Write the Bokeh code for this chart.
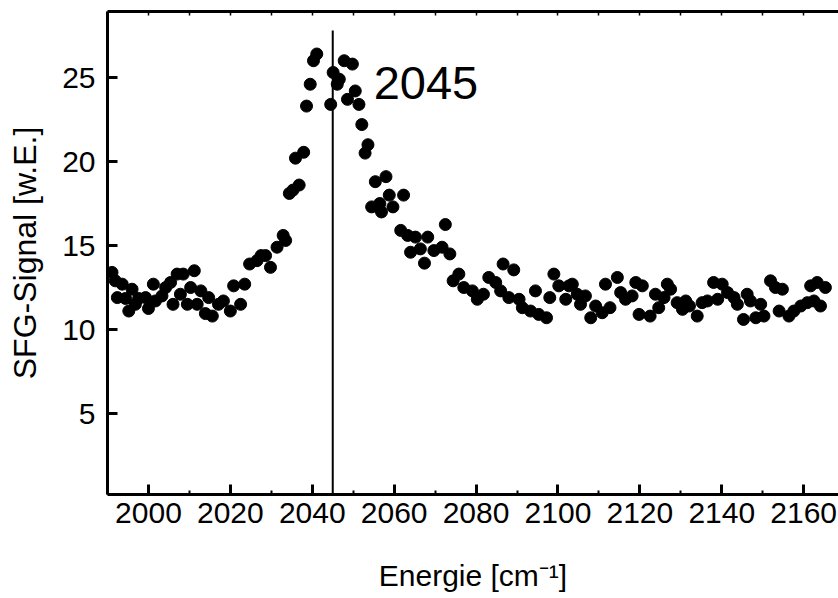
from bokeh.plotting import figure
from bokeh.models import Range1d, FixedTicker, LinearAxis, Label, CustomLabelingPolicy
from bokeh.embed import file_html
from bokeh.resources import INLINE

energy = [1991.1, 1991.9, 1992.4, 1993.6, 1994.4, 1995.2, 1996.0, 1996.8, 1997.6, 1999.3,
          2000.0, 2001.2, 2001.7, 2003.3, 2004.2, 2005.4, 2006.0, 2007.0, 2007.8, 2008.5,
          2009.5, 2010.3, 2011.2, 2011.9, 2012.8, 2013.9, 2014.7, 2015.6, 2017.1, 2018.3,
          2020.0, 2020.8, 2022.5, 2023.5, 2024.7, 2026.5, 2027.5, 2028.6, 2029.8, 2031.4,
          2032.9, 2033.5, 2034.4, 2035.3, 2035.9, 2036.8, 2037.9, 2038.6, 2039.5, 2040.3,
          2041.1, 2044.5, 2045.1, 2046.1, 2046.6, 2047.8, 2048.6, 2049.8, 2050.5, 2051.4,
          2052.1, 2052.9, 2053.6, 2054.5, 2055.4, 2056.5, 2056.9, 2058.0, 2058.8, 2059.7,
          2061.6, 2062.3, 2063.3, 2064.0, 2065.2, 2066.4, 2067.4, 2068.2, 2069.7, 2071.7,
          2072.5, 2073.6, 2074.4, 2075.8, 2077.0, 2079.1, 2080.3, 2081.8, 2083.1, 2084.8,
          2086.0, 2086.6, 2088.0, 2089.2, 2090.5, 2091.3, 2093.3, 2094.5, 2095.3, 2097.2,
          2098.0, 2099.0, 2100.2, 2101.9, 2102.7, 2103.5, 2104.7, 2105.5, 2106.7, 2108.0,
          2109.2, 2110.8, 2111.6, 2112.7, 2114.5, 2115.3, 2116.5, 2118.1, 2119.0, 2119.8,
          2120.6, 2122.5, 2123.8, 2124.6, 2125.9, 2126.7, 2127.5, 2129.1, 2130.4, 2131.2,
          2132.1, 2134.0, 2135.2, 2136.5, 2138.0, 2139.0, 2140.1, 2141.4, 2143.0, 2143.8,
          2145.3, 2146.2, 2147.0, 2148.3, 2149.5, 2150.3, 2151.9, 2153.1, 2154.0, 2154.8,
          2156.4, 2157.6, 2159.3, 2160.9, 2161.7, 2162.5, 2163.3, 2164.1, 2165.3]

signal = [13.4, 12.9, 11.9, 12.7, 11.85, 11.1, 12.4, 11.5, 11.85, 11.9,
          11.25, 12.7, 11.7, 12.0, 12.5, 12.8, 11.5, 13.3, 12.1, 13.3,
          11.5, 12.5, 13.5, 11.5, 12.3, 10.95, 11.9, 10.8, 11.5, 11.7,
          11.1, 12.6, 11.5, 12.7, 13.9, 14.1, 14.4, 14.4, 13.7, 14.9,
          15.6, 15.3, 18.1, 18.3, 20.2, 18.6, 20.55, 23.3, 24.6, 26.0,
          26.4, 23.4, 25.3, 24.6, 24.9, 26.0, 23.7, 25.8, 24.2, 23.4,
          22.2, 20.5, 21.0, 17.3, 18.8, 17.5, 17.0, 19.1, 18.0, 17.3,
          15.9, 18.0, 15.6, 14.6, 15.5, 14.8, 13.95, 15.5, 14.7, 14.9,
          16.25, 14.5, 12.9, 13.3, 12.5, 12.3, 11.8, 12.1, 13.1, 12.8,
          12.3, 13.9, 11.9, 13.55, 11.8, 11.3, 11.1, 12.3, 10.9, 10.7,
          11.9, 13.3, 12.6, 11.8, 12.6, 12.7, 12.1, 11.5, 12.0, 10.7,
          11.4, 11.0, 12.7, 11.3, 13.1, 12.2, 11.8, 12.0, 12.8, 10.9,
          12.6, 10.8, 12.1, 11.3, 11.9, 12.7, 12.4, 11.6, 11.2, 11.7,
          11.4, 10.8, 11.6, 11.7, 12.8, 11.8, 12.7, 12.2, 11.9, 11.5,
          10.6, 12.1, 11.7, 10.7, 11.5, 10.8, 12.9, 12.5, 11.1, 12.4,
          10.8, 11.1, 11.4, 11.6, 12.6, 11.7, 12.8, 11.4, 12.5]

x_major = [2000, 2020, 2040, 2060, 2080, 2100, 2120, 2140, 2160]
x_minor = [1990, 2010, 2030, 2050, 2070, 2090, 2110, 2130, 2150, 2170]
y_major = [5, 10, 15, 20, 25]
peak_pos = 2045
peak_line_top = 27.8
peak_label = "2045"
x_title = "Energie [cm\u207b\u00b9]"
y_title = "SFG-Signal [w.E.]"

FONT = "Liberation Sans"
Y0, Y1 = 0.18, 28.93

p = figure(width=838, height=598, output_backend="svg", toolbar_location=None,
           x_range=Range1d(1990, 2168.5), y_range=Range1d(Y0, Y1),
           min_border_left=107, min_border_right=0, min_border_top=11, min_border_bottom=104)
p.xgrid.visible = False
p.ygrid.visible = False
p.outline_line_color = None
p.background_fill_color = "white"
p.border_fill_color = "white"

# data
p.scatter(energy, signal, size=12, color="black")
p.segment(x0=[peak_pos], y0=[Y0], x1=[peak_pos], y1=[peak_line_top], line_color="black", line_width=2)
p.add_layout(Label(x=2055, y=24.7, text=peak_label, text_font=FONT, text_font_size="47px",
                   text_color="black", text_baseline="alphabetic"))

xa = p.xaxis[0]
xa.ticker = FixedTicker(ticks=x_major, minor_ticks=x_minor)
xa.axis_label = x_title
xa.axis_label_text_font = FONT
xa.axis_label_text_font_size = "30px"
xa.axis_label_text_font_style = "normal"
xa.axis_label_text_color = "black"
xa.axis_label_standoff = 33
xa.major_label_text_font = FONT
xa.major_label_text_font_size = "30px"
xa.major_label_text_color = "black"
xa.major_label_standoff = 8
xa.major_tick_in = 10
xa.major_tick_out = 0
xa.minor_tick_in = 4
xa.minor_tick_out = 0
xa.axis_line_width = 3
xa.major_tick_line_width = 3
xa.minor_tick_line_width = 2

ya = p.yaxis[0]
ya.ticker = FixedTicker(ticks=y_major)
ya.axis_label = y_title
ya.axis_label_text_font = FONT
ya.axis_label_text_font_size = "32px"
ya.axis_label_text_font_style = "normal"
ya.axis_label_text_color = "black"
ya.axis_label_standoff = 16
ya.major_label_text_font = FONT
ya.major_label_text_font_size = "30px"
ya.major_label_text_color = "black"
ya.major_label_standoff = 12
ya.major_tick_in = 10
ya.major_tick_out = 0
ya.minor_tick_line_color = None
ya.axis_line_width = 3
ya.major_tick_line_width = 3

top = LinearAxis(ticker=FixedTicker(ticks=x_minor + x_major),
                 major_label_policy=CustomLabelingPolicy(code="return new Set()"))
top.major_label_text_font_size = "10px"
top.major_label_standoff = 0
top.major_tick_in = 4
top.major_tick_out = 0
top.minor_tick_line_color = None
top.axis_line_width = 3
top.major_tick_line_width = 1.5
p.add_layout(top, "above")

open("out.html", "w").write(file_html(p, INLINE))
